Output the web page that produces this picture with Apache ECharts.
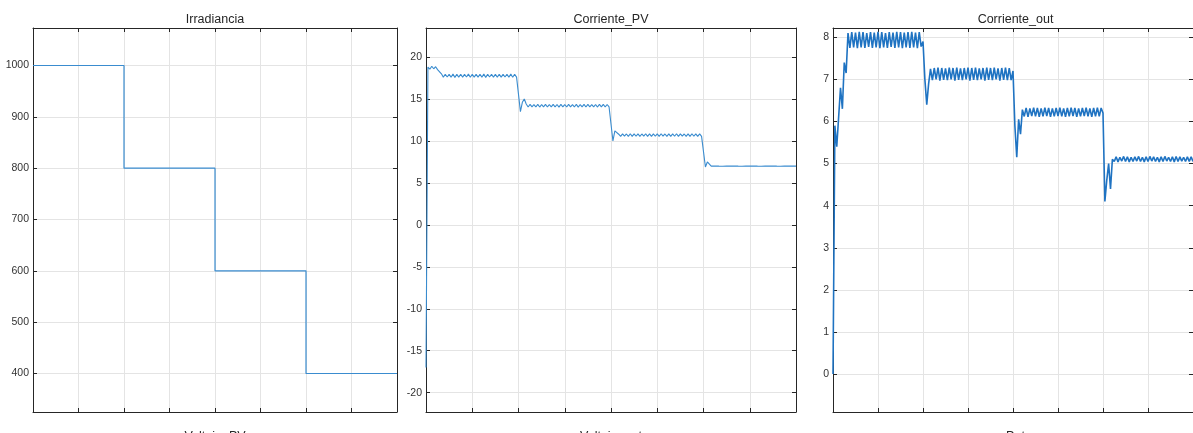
<!DOCTYPE html>
<html><head><meta charset="utf-8">
<script src="https://cdn.jsdelivr.net/npm/echarts@6/dist/echarts.min.js"></script>
<style>html,body{margin:0;padding:0;background:#fff}#c{width:1193px;height:433px}</style>
</head><body><div id="c"></div>
<script>
// ---------- data ----------
const titles = ['Irradiancia', 'Corriente_PV', 'Corriente_out'];
const xNames = ['Voltaje_PV', 'Voltaje_out', 'Pot'];

// Irradiancia: step profile (time, value)
const irrT = [0, 2, 2, 4, 4, 6, 6, 8];
const irrV = [1000, 1000, 800, 800, 600, 600, 400, 400];

// Scope samples for the two currents, one sample every sampleStep time units
const sampleStep = 1 / 24;
const pvV = [
  -17, 18.8, 18.55, 18.9, 18.6, 18.85, 18.5, 18.6, 18.0,
  17.6,17.95, 17.62,17.93, 17.6,17.96, 17.58,17.94, 17.61,17.95,
  17.6,17.93, 17.62,17.96, 17.59,17.95, 17.6,17.94, 17.61,17.95,
  17.6,17.96, 17.58,17.94, 17.62,17.95, 17.6,17.93, 17.61,17.95,
  17.6,17.94, 17.62,17.95, 17.6,17.96, 17.59,17.94, 17.6,
  17.8, 13.5, 14.6, 15.0, 14.4,
  14.05,14.35, 14.07,14.33, 14.05,14.36, 14.04,14.34, 14.06,14.35,
  14.05,14.33, 14.07,14.36, 14.05,14.34, 14.04,14.35, 14.06,14.34,
  14.05,14.36, 14.07,14.33, 14.05,14.35, 14.04,14.34, 14.06,14.36,
  14.05,14.35, 14.07,14.33, 14.05,14.34, 14.04,14.36, 14.06,14.35,
  14.05,14.34, 14.05,
  14.2, 10.0, 11.2, 11.1, 10.8,
  10.55,10.85, 10.57,10.83, 10.55,10.86, 10.54,10.84, 10.56,10.85,
  10.55,10.83, 10.57,10.86, 10.55,10.84, 10.54,10.85, 10.56,10.84,
  10.55,10.86, 10.57,10.83, 10.55,10.85, 10.54,10.84, 10.56,10.86,
  10.55,10.85, 10.57,10.83, 10.55,10.84, 10.54,10.86, 10.56,10.85,
  10.55,10.84, 10.55,
  10.7, 6.9, 7.5, 7.4,
  7.0,7.2, 7.02,7.19, 7.0,7.21, 6.99,7.2, 7.01,7.2,
  7.0,7.19, 7.02,7.21, 7.0,7.2, 6.99,7.2, 7.01,7.19,
  7.0,7.21, 7.02,7.2, 7.0,7.19, 6.99,7.2, 7.01,7.21,
  7.0,7.2, 7.02,7.19, 7.0,7.2, 6.99,7.21, 7.01,7.2,
  7.0,7.2, 7.01,7.19, 7.0
];
const outV = [
  0, 5.9, 5.4, 6.1, 6.8, 6.3, 7.4, 7.15,
  8.1,7.75, 8.12,7.76, 8.11,7.74, 8.13,7.76, 8.12,7.75,
  8.1,7.77, 8.12,7.75, 8.11,7.76, 8.13,7.74, 8.12,7.76,
  8.1,7.75, 8.12,7.77, 8.11,7.75, 8.13,7.76, 8.12,7.74,
  8.11,7.76, 8.12,7.75, 8.13,7.76, 8.11,7.74, 8.12,7.78,
  7.9, 7.0, 6.4, 6.9, 7.25,
  6.98,7.27, 7.0,7.28, 6.97,7.27, 6.99,7.26, 6.98,7.28,
  7.0,7.27, 6.97,7.28, 6.99,7.26, 6.98,7.27, 7.0,7.28,
  6.97,7.27, 6.99,7.28, 6.98,7.26, 7.0,7.27, 6.97,7.28,
  6.99,7.27, 6.98,7.28, 7.0,7.26, 6.97,7.27, 6.99,7.28,
  6.98,7.27, 6.98,
  7.2, 5.9, 5.15, 6.05, 5.7, 6.28,
  6.12,6.32, 6.11,6.31, 6.13,6.33, 6.12,6.32, 6.11,6.31,
  6.12,6.33, 6.13,6.32, 6.11,6.31, 6.12,6.32, 6.13,6.33,
  6.12,6.31, 6.11,6.32, 6.12,6.33, 6.13,6.32, 6.11,6.31,
  6.12,6.32, 6.13,6.33, 6.12,6.31, 6.11,6.32, 6.12,6.33,
  6.12,6.32,
  6.2, 4.1, 4.6, 5.0, 4.4, 5.1,
  5.05,5.16, 5.04,5.15, 5.06,5.17, 5.05,5.16, 5.04,5.15,
  5.05,5.16, 5.06,5.17, 5.05,5.15, 5.04,5.16, 5.05,5.17,
  5.06,5.16, 5.05,5.15, 5.04,5.16, 5.05,5.17, 5.06,5.15,
  5.05,5.16, 5.04,5.17, 5.05,5.16, 5.06,5.15, 5.05,5.16,
  5.05,5.16, 5.05
];

// axis ranges
const xRange = [0, 8];
const xStep = 1;
const yRanges = [[325, 1073], [-22.3, 23.46], [-0.9, 8.22]];
const ySteps = [100, 5, 1];

// ---------- chart ----------
const grids = [
  { left: 33, top: 28, width: 364, height: 384 },
  { left: 426, top: 28, width: 370, height: 384 },
  { left: 833, top: 28, width: 365, height: 384 }
];
const AX = '#262626', GRID = '#e4e4e4', TXT = '#333333';
const FONT = "'Liberation Sans', Arial, Helvetica, sans-serif";

const xAxes = [], yAxes = [];
grids.forEach((g, i) => {
  ['bottom', 'top'].forEach(pos => {
    xAxes.push({
      gridIndex: i, type: 'value', position: pos,
      min: xRange[0], max: xRange[1], interval: xStep,
      axisLine: { show: true, onZero: false, lineStyle: { color: AX, width: 1 } },
      axisTick: { show: true, inside: true, length: 4, lineStyle: { color: AX } },
      axisLabel: { show: false },
      splitLine: { show: pos === 'bottom', lineStyle: { color: GRID, width: 1 } }
    });
  });
  ['left', 'right'].forEach(pos => {
    yAxes.push({
      gridIndex: i, type: 'value', position: pos,
      min: yRanges[i][0], max: yRanges[i][1],
      minInterval: ySteps[i], maxInterval: ySteps[i], splitNumber: 8,
      axisLine: { show: true, onZero: false, lineStyle: { color: AX, width: 1 } },
      axisTick: { show: true, inside: true, length: 4, lineStyle: { color: AX } },
      axisLabel: {
        show: pos === 'left', showMinLabel: false, showMaxLabel: false,
        fontSize: 10.5, color: TXT, fontFamily: FONT, margin: 4,
        formatter: v => String(v)
      },
      splitLine: { show: pos === 'left', lineStyle: { color: GRID, width: 1 } }
    });
  });
});

const irrData = irrT.map((t, k) => [t, irrV[k]]);
const pvData = pvV.map((v, k) => [k * sampleStep, v]);
const outData = outV.map((v, k) => [k * sampleStep, v]);

const graphics = [];
grids.forEach((g, i) => {
  const cx = g.left + g.width / 2;
  graphics.push({ type: 'text', x: cx, y: 13, silent: true,
    style: { text: titles[i], align: 'center', verticalAlign: 'top', fill: '#262626',
      font: "12.5px " + FONT } });
  graphics.push({ type: 'text', x: cx, y: 430, silent: true,
    style: { text: xNames[i], align: 'center', verticalAlign: 'top', fill: '#262626',
      font: "12.5px " + FONT } });
});

const chart = echarts.init(document.getElementById('c'), null, { renderer: 'canvas' });
chart.setOption({
  animation: false,
  backgroundColor: '#ffffff',
  grid: grids.map(g => Object.assign({ containLabel: false }, g)),
  xAxis: xAxes,
  yAxis: yAxes,
  graphic: graphics,
  series: [
    { type: 'line', xAxisIndex: 0, yAxisIndex: 0, data: irrData, showSymbol: false,
      lineStyle: { color: '#3a8ccf', width: 1.2 }, clip: true },
    { type: 'line', xAxisIndex: 2, yAxisIndex: 2, data: pvData, showSymbol: false,
      lineStyle: { color: '#3a8ccf', width: 1.1 }, clip: true },
    { type: 'line', xAxisIndex: 4, yAxisIndex: 4, data: outData, showSymbol: false,
      lineStyle: { color: '#1f73c2', width: 1.6 }, clip: true }
  ]
});
</script>
</body></html>
